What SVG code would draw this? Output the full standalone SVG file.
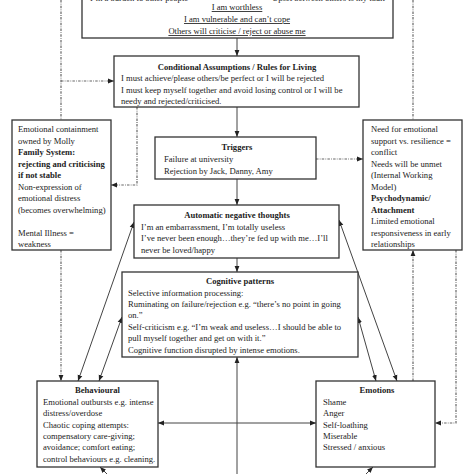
<svg xmlns="http://www.w3.org/2000/svg" width="474" height="474" viewBox="0 0 474 474">
<defs>
<style>
.box{fill:#fff;stroke:#333;stroke-width:1.3}
.t{font-family:"Liberation Serif","Times New Roman",serif;font-size:8.6px;fill:#222}
.b{font-weight:bold}
.c{text-anchor:middle}
.u{text-decoration:underline}
.ln{fill:none;stroke:#444;stroke-width:1}
.dl{fill:none;stroke:#666;stroke-width:1.2;stroke-dasharray:2.5 1.2 0.8 1.2}
</style>
<marker id="ah" viewBox="0 0 10 10" refX="10" refY="5" markerWidth="6" markerHeight="6" orient="auto-start-reverse" markerUnits="userSpaceOnUse">
<path d="M0,1 L10,5 L0,9 z" fill="#222"/>
</marker>
</defs>
<rect width="474" height="474" fill="#fff"/>

<g id="connectors">
<line class="ln" x1="237" y1="38" x2="237" y2="56" marker-end="url(#ah)"/>
<line class="ln" x1="237" y1="107" x2="237" y2="137" marker-end="url(#ah)"/>
<line class="ln" x1="237" y1="179" x2="237" y2="205" marker-end="url(#ah)"/>
<line class="ln" x1="237" y1="258" x2="237" y2="272" marker-end="url(#ah)"/>
<line class="ln" x1="237" y1="474" x2="237" y2="357" marker-end="url(#ah)"/>
<line class="ln" x1="158" y1="423" x2="316" y2="423" marker-start="url(#ah)" marker-end="url(#ah)"/>
<line class="ln" x1="134" y1="222" x2="78" y2="381" marker-start="url(#ah)" marker-end="url(#ah)"/>
<line class="ln" x1="122" y1="317" x2="99" y2="381" marker-start="url(#ah)" marker-end="url(#ah)"/>
<line class="ln" x1="339" y1="220" x2="397" y2="381" marker-start="url(#ah)" marker-end="url(#ah)"/>
<line class="ln" x1="358" y1="317" x2="376" y2="381" marker-start="url(#ah)" marker-end="url(#ah)"/>
<line class="ln" x1="107" y1="474" x2="100" y2="467" marker-end="url(#ah)"/>
<line class="ln" x1="366" y1="474" x2="373" y2="467" marker-end="url(#ah)"/>

<line class="dl" x1="61" y1="0" x2="61" y2="120"/>
<line class="dl" x1="61" y1="81" x2="114" y2="81" marker-end="url(#ah)"/>
<line class="dl" x1="61" y1="250" x2="61" y2="381" marker-end="url(#ah)"/>
<polyline class="dl" points="137,107 137,185 111,185" marker-end="url(#ah)"/>
<line class="dl" x1="316" y1="159" x2="363" y2="159" marker-end="url(#ah)"/>
<line class="dl" x1="413" y1="0" x2="413" y2="120"/>
<line class="dl" x1="413" y1="381" x2="413" y2="250" marker-end="url(#ah)"/>
<polyline class="dl" points="456,250 456,423 435,423" marker-end="url(#ah)"/>
</g>

<g id="core-beliefs">
<rect class="box" x="82" y="-20" width="311" height="58"/>
<text class="t" x="90" y="0.5">I’m a burden to other people</text>
<text class="t" x="272" y="0.5">Upset between others is my fault</text>
<text class="t c u" x="237" y="10">I am worthless</text>
<text class="t c u" x="237" y="22">I am vulnerable and can’t cope</text>
<text class="t c u" x="237" y="34">Others will criticise / reject or abuse me</text>
</g>

<g id="conditional">
<rect class="box" x="114" y="56" width="245" height="51"/>
<text class="t b c" x="237" y="69.5">Conditional Assumptions / Rules for Living</text>
<text class="t" x="121" y="81">I must achieve/please others/be perfect or I will be rejected</text>
<text class="t" x="121" y="92.5">I must keep myself together and avoid losing control or I will be</text>
<text class="t" x="121" y="104">needy and rejected/criticised.</text>
</g>

<g id="family">
<rect class="box" x="12" y="120" width="99" height="130"/>
<text class="t" x="18" y="132">Emotional containment</text>
<text class="t" x="18" y="143.5">owned by Molly</text>
<text class="t b" x="18" y="155">Family System:</text>
<text class="t b" x="18" y="166.5">rejecting and criticising</text>
<text class="t b" x="18" y="178">if not stable</text>
<text class="t" x="18" y="189.5">Non-expression of</text>
<text class="t" x="18" y="201">emotional distress</text>
<text class="t" x="18" y="212.5">(becomes overwhelming)</text>
<text class="t" x="18" y="235.5">Mental Illness =</text>
<text class="t" x="18" y="247">weakness</text>
</g>

<g id="attachment">
<rect class="box" x="363" y="120" width="99" height="130"/>
<text class="t" x="371" y="132">Need for emotional</text>
<text class="t" x="371" y="143.5">support vs. resilience =</text>
<text class="t" x="371" y="155">conflict</text>
<text class="t" x="371" y="166.5">Needs will be unmet</text>
<text class="t" x="371" y="178">(Internal Working</text>
<text class="t" x="371" y="189.5">Model)</text>
<text class="t b" x="371" y="201">Psychodynamic/</text>
<text class="t b" x="371" y="212.5">Attachment</text>
<text class="t" x="371" y="224">Limited emotional</text>
<text class="t" x="371" y="235.5">responsiveness in early</text>
<text class="t" x="371" y="247">relationships</text>
</g>

<g id="triggers">
<rect class="box" x="155" y="137" width="161" height="42"/>
<text class="t b c" x="237" y="150">Triggers</text>
<text class="t" x="164" y="162">Failure at university</text>
<text class="t" x="164" y="174">Rejection by Jack, Danny, Amy</text>
</g>

<g id="ant">
<rect class="box" x="134" y="205" width="205" height="53"/>
<text class="t b c" x="237" y="218">Automatic negative thoughts</text>
<text class="t" x="141" y="229.5">I’m an embarrassment, I’m totally useless</text>
<text class="t" x="141" y="241">I’ve never been enough…they’re fed up with me…I’ll</text>
<text class="t" x="141" y="252.5">never be loved/happy</text>
</g>

<g id="cognitive">
<rect class="box" x="122" y="272" width="236" height="85"/>
<text class="t b c" x="240" y="284">Cognitive patterns</text>
<text class="t" x="128" y="295.5">Selective information processing:</text>
<text class="t" x="128" y="307">Ruminating on failure/rejection e.g. “there’s no point in going</text>
<text class="t" x="128" y="318">on.”</text>
<text class="t" x="128" y="329.5">Self-criticism e.g. “I’m weak and useless…I should be able to</text>
<text class="t" x="128" y="341">pull myself together and get on with it.”</text>
<text class="t" x="128" y="352.5">Cognitive function disrupted by intense emotions.</text>
</g>

<g id="behavioural">
<rect class="box" x="37" y="381" width="121" height="86"/>
<text class="t b c" x="97.5" y="393">Behavioural</text>
<text class="t" x="43" y="405">Emotional outbursts e.g. intense</text>
<text class="t" x="43" y="416">distress/overdose</text>
<text class="t" x="43" y="427.5">Chaotic coping attempts:</text>
<text class="t" x="43" y="439">compensatory care-giving;</text>
<text class="t" x="43" y="450">avoidance; comfort eating;</text>
<text class="t" x="43" y="461.5">control behaviours e.g. cleaning.</text>
</g>

<g id="emotions">
<rect class="box" x="316" y="381" width="119" height="86"/>
<text class="t b c" x="377" y="393">Emotions</text>
<text class="t" x="323" y="405">Shame</text>
<text class="t" x="323" y="416">Anger</text>
<text class="t" x="323" y="427.5">Self-loathing</text>
<text class="t" x="323" y="439">Miserable</text>
<text class="t" x="323" y="450">Stressed / anxious</text>
</g>
</svg>
